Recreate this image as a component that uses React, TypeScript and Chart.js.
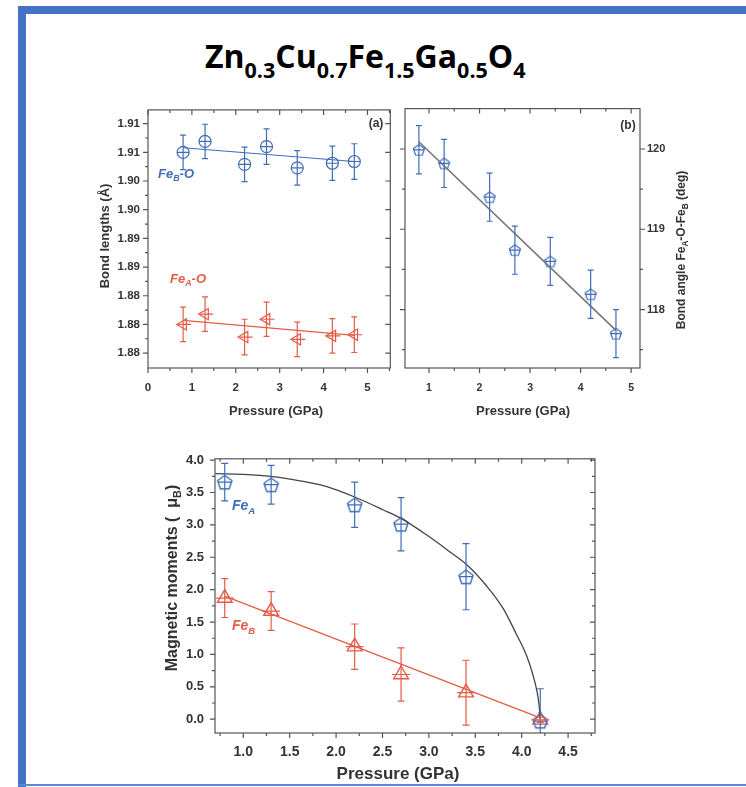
import React, { useEffect, useRef } from "react";
import { Chart, registerables } from "chart.js";
Chart.register(...registerables);

const BLUE = "#3f6db8";
const RED = "#e55b47";
const AXIS = "#555555";
const LABEL = "#333333";
const FONT = "'Liberation Sans', Arial, sans-serif";

// ---------- Panel (a): bond lengths ----------
const PRESSURE_AB = [0.8, 1.3, 2.2, 2.7, 3.4, 4.2, 4.7];
const FEB_O_LENGTH = [1.91, 1.9119, 1.9079, 1.911, 1.9073, 1.9081, 1.9084];
const FEB_O_ERROR = [0.003, 0.003, 0.003, 0.0031, 0.003, 0.003, 0.0031];
const FEA_O_LENGTH = [1.88, 1.8818, 1.8778, 1.8809, 1.8774, 1.878, 1.8782];
const FEA_O_ERROR = [0.003, 0.003, 0.0031, 0.003, 0.003, 0.003, 0.0031];
const FIT_AB_X = [0.8, 4.7];
const FEB_O_FIT = [1.9108, 1.9084];
const FEA_O_FIT = [1.8807, 1.8781];
const LENGTH_TICKS = [1.875, 1.88, 1.885, 1.89, 1.895, 1.9, 1.905, 1.91, 1.915];
const LENGTH_TICK_LABELS = ["1.88", "1.88", "1.88", "1.89", "1.89", "1.90", "1.90", "1.91", "1.91"];
const PRESSURE_TICKS_A = [0, 1, 2, 3, 4, 5];

// ---------- Panel (b): bond angle ----------
const BOND_ANGLE = [119.99, 119.82, 119.4, 118.74, 118.6, 118.19, 117.7];
const BOND_ANGLE_ERROR = [0.3, 0.3, 0.3, 0.3, 0.3, 0.3, 0.3];
const BOND_ANGLE_FIT = [120.09, 117.74];
const ANGLE_TICKS = [118, 119, 120];
const PRESSURE_TICKS_B = [1, 2, 3, 4, 5];

// ---------- Panel (c): magnetic moments ----------
const PRESSURE_C = [0.8, 1.3, 2.2, 2.7, 3.4, 4.2];
const MOMENT_FEA = [3.66, 3.62, 3.31, 3.01, 2.2, -0.03];
const MOMENT_FEA_ERROR = [0.29, 0.3, 0.35, 0.41, 0.51, 0.5];
const MOMENT_FEB = [1.87, 1.67, 1.12, 0.69, 0.41, -0.01];
const MOMENT_FEB_ERROR = [0.3, 0.3, 0.35, 0.41, 0.5, 0.04];
const FEA_CURVE_X = [0.7, 1.0, 1.3, 1.61, 1.9, 2.2, 2.51, 2.7, 2.97, 3.22, 3.42, 3.62, 3.8, 3.94, 4.05, 4.12, 4.17, 4.19, 4.2];
const FEA_CURVE_Y = [3.79, 3.78, 3.75, 3.68, 3.59, 3.43, 3.23, 3.1, 2.85, 2.59, 2.37, 2.06, 1.71, 1.32, 0.99, 0.69, 0.39, 0.18, 0.0];
const FEB_LINE_X = [0.8, 4.2];
const FEB_LINE_Y = [1.9, 0.02];
const MOMENT_TICKS = [0, 0.5, 1, 1.5, 2, 2.5, 3, 3.5, 4];
const PRESSURE_TICKS_C = [1, 1.5, 2, 2.5, 3, 3.5, 4, 4.5];

type Part = { t: string; sub?: boolean };
type TextSpec = { parts: Part[]; x: number; y: number; rot?: number; size: number; color: string; italic?: boolean; align?: "left" | "center" };
type TickSpec = { axis: "x" | "y"; side: "top" | "bottom" | "left" | "right"; values: number[]; len: number; out: boolean };

const mids = (a: number[]) => {
  const r: number[] = [];
  for (let i = 0; i < a.length - 1; i++) r.push((a[i] + a[i + 1]) / 2);
  return r;
};

function pts(xs: number[], ys: number[]) {
  return xs.map((x, i) => ({ x, y: ys[i] }));
}

function pentagon(r: number, color: string, lw: number) {
  const c = document.createElement("canvas");
  const s = Math.ceil(2 * r + lw * 2 + 2);
  c.width = s;
  c.height = s;
  const g = c.getContext("2d")!;
  g.strokeStyle = color;
  g.lineWidth = lw;
  g.beginPath();
  for (let k = 0; k < 5; k++) {
    const a = -Math.PI / 2 + (k * 2 * Math.PI) / 5;
    const px = s / 2 + r * Math.cos(a);
    const py = s / 2 + r * Math.sin(a) + r * 0.1;
    if (k) g.lineTo(px, py);
    else g.moveTo(px, py);
  }
  g.closePath();
  g.stroke();
  return c;
}

function drawRich(ctx: CanvasRenderingContext2D, s: TextSpec, ox: number, oy: number) {
  const style = `${s.italic ? "italic " : ""}bold `;
  const subSize = s.size * 0.68;
  const widths = s.parts.map((p) => {
    ctx.font = `${style}${p.sub ? subSize : s.size}px ${FONT}`;
    return ctx.measureText(p.t).width;
  });
  const total = widths.reduce((a, b) => a + b, 0);
  ctx.save();
  ctx.translate(s.x - ox, s.y - oy);
  ctx.rotate(((s.rot || 0) * Math.PI) / 180);
  ctx.fillStyle = s.color;
  ctx.textBaseline = "alphabetic";
  ctx.textAlign = "left";
  let cx = s.align === "left" ? 0 : -total / 2;
  const base = s.size * 0.36;
  s.parts.forEach((p, k) => {
    ctx.font = `${style}${p.sub ? subSize : s.size}px ${FONT}`;
    ctx.fillText(p.t, cx, p.sub ? base + s.size * 0.25 : base);
    cx += widths[k];
  });
  ctx.restore();
}

function makeDecor(ox: number, oy: number, ticks: TickSpec[], texts: TextSpec[]) {
  return {
    id: "decor",
    afterDatasetsDraw(chart: any) {
      const ctx: CanvasRenderingContext2D = chart.ctx;
      const a = chart.chartArea;
      ctx.save();
      ctx.beginPath();
      ctx.rect(a.left, a.top, a.right - a.left, a.bottom - a.top);
      ctx.clip();
      chart.data.datasets.forEach((ds: any, i: number) => {
        if (!ds.errY) return;
        const meta = chart.getDatasetMeta(i);
        const ys = chart.scales[meta.yAxisID];
        ctx.strokeStyle = ds.borderColor;
        ctx.lineWidth = 1.2;
        meta.data.forEach((pt: any, j: number) => {
          const v = ds.data[j].y;
          const e = ds.errY[j];
          const x = pt.x;
          const y = pt.y;
          const y1 = ys.getPixelForValue(v + e);
          const y2 = ys.getPixelForValue(v - e);
          ctx.beginPath();
          ctx.moveTo(x, y1);
          ctx.lineTo(x, y2);
          ctx.moveTo(x - ds.capW, y1);
          ctx.lineTo(x + ds.capW, y1);
          ctx.moveTo(x - ds.capW, y2);
          ctx.lineTo(x + ds.capW, y2);
          ctx.moveTo(x - ds.crossL, y);
          ctx.lineTo(x + ds.crossR, y);
          ctx.stroke();
        });
      });
      ctx.restore();
    },
    afterDraw(chart: any) {
      const ctx: CanvasRenderingContext2D = chart.ctx;
      const a = chart.chartArea;
      ctx.save();
      ctx.strokeStyle = AXIS;
      ctx.lineWidth = 1.2;
      ctx.strokeRect(a.left, a.top, a.right - a.left, a.bottom - a.top);
      ctx.beginPath();
      ticks.forEach((t) => {
        const sc = chart.scales[t.axis];
        t.values.forEach((v) => {
          const p = sc.getPixelForValue(v);
          if (t.side === "bottom" || t.side === "top") {
            if (p < a.left - 0.5 || p > a.right + 0.5) return;
            const y0 = t.side === "bottom" ? a.bottom : a.top;
            const d = (t.side === "bottom" ? 1 : -1) * (t.out ? 1 : -1) * t.len;
            ctx.moveTo(p, y0);
            ctx.lineTo(p, y0 + d);
          } else {
            if (p < a.top - 0.5 || p > a.bottom + 0.5) return;
            const x0 = t.side === "left" ? a.left : a.right;
            const d = (t.side === "left" ? -1 : 1) * (t.out ? 1 : -1) * t.len;
            ctx.moveTo(x0, p);
            ctx.lineTo(x0 + d, p);
          }
        });
      });
      ctx.stroke();
      ctx.restore();
      texts.forEach((s) => drawRich(ctx, s, ox, oy));
    },
  };
}

function axis(min: number, max: number, vals: number[], size: number, pad: number, fit: (s: any) => void, fmt: (v: number, i: number) => string, position?: string) {
  return {
    type: "linear",
    position,
    min,
    max,
    afterBuildTicks: (s: any) => {
      s.ticks = vals.map((v) => ({ value: v }));
    },
    afterFit: fit,
    ticks: {
      font: { family: FONT, size, weight: "bold" },
      color: LABEL,
      padding: pad,
      maxRotation: 0,
      autoSkip: false,
      callback: (v: any, i: number) => fmt(Number(v), i),
    },
    grid: { display: false, drawTicks: false },
    border: { display: false },
  };
}

const baseOptions = (padding: any) => ({
  animation: false,
  responsive: false,
  maintainAspectRatio: false,
  layout: { padding },
  plugins: { legend: { display: false }, tooltip: { enabled: false } },
});

function lineDs(xs: number[], ys: number[], color: string, width: number, monotone = false) {
  return {
    data: pts(xs, ys),
    showLine: true,
    borderColor: color,
    borderWidth: width,
    pointRadius: 0,
    fill: false,
    cubicInterpolationMode: monotone ? "monotone" : "default",
  };
}

function configA(): any {
  const ox = 88, oy = 95;
  const ticks: TickSpec[] = [
    { axis: "x", side: "bottom", values: PRESSURE_TICKS_A, len: 5, out: true },
    { axis: "x", side: "bottom", values: [...mids(PRESSURE_TICKS_A), 5.5], len: 3, out: true },
    { axis: "x", side: "top", values: PRESSURE_TICKS_A, len: 5, out: false },
    { axis: "x", side: "top", values: [...mids(PRESSURE_TICKS_A), 5.5], len: 3, out: false },
    { axis: "y", side: "left", values: LENGTH_TICKS, len: 5, out: true },
    { axis: "y", side: "left", values: mids(LENGTH_TICKS), len: 3, out: true },
    { axis: "y", side: "right", values: LENGTH_TICKS, len: 5, out: false },
  ];
  const texts: TextSpec[] = [
    { parts: [{ t: "Bond lengths (Å)" }], x: 104, y: 236, rot: -90, size: 13, color: LABEL },
    { parts: [{ t: "Pressure (GPa)" }], x: 276, y: 410, size: 13, color: LABEL },
    { parts: [{ t: "(a)" }], x: 376, y: 123, size: 12, color: LABEL },
    { parts: [{ t: "Fe" }, { t: "B", sub: true }, { t: "-O" }], x: 158, y: 173, size: 13, color: BLUE, italic: true, align: "left" },
    { parts: [{ t: "Fe" }, { t: "A", sub: true }, { t: "-O" }], x: 170, y: 278, size: 13, color: RED, italic: true, align: "left" },
  ];
  return {
    type: "scatter",
    data: {
      datasets: [
        lineDs(FIT_AB_X, FEB_O_FIT, BLUE, 1.2),
        lineDs(FIT_AB_X, FEA_O_FIT, RED, 1.2),
        {
          data: pts(PRESSURE_AB, FEB_O_LENGTH),
          pointStyle: "circle",
          pointRadius: 6,
          borderColor: BLUE,
          backgroundColor: "rgba(0,0,0,0)",
          borderWidth: 1.2,
          errY: FEB_O_ERROR,
          capW: 3,
          crossL: 6,
          crossR: 6,
        },
        {
          data: pts(PRESSURE_AB, FEA_O_LENGTH),
          pointStyle: "triangle",
          rotation: -90,
          pointRadius: 6.5,
          borderColor: RED,
          backgroundColor: "rgba(0,0,0,0)",
          borderWidth: 1.2,
          errY: FEA_O_ERROR,
          capW: 3,
          crossL: 5,
          crossR: 8,
        },
      ],
    },
    options: {
      ...baseOptions({ top: 10, right: 5, left: 0, bottom: 0 }),
      scales: {
        x: axis(0, 5.52, PRESSURE_TICKS_A, 11.5, 13, (s: any) => { s.height = 57; }, (v) => String(v)),
        y: axis(1.8724, 1.9174, LENGTH_TICKS, 11.5, 8, (s: any) => { s.width = 60; }, (_v, i) => LENGTH_TICK_LABELS[i]),
      },
    },
    plugins: [makeDecor(ox, oy, ticks, texts)],
  };
}

function configB(): any {
  const ox = 398, oy = 95;
  const minor = [117.5, 118.5, 119.5];
  const ticks: TickSpec[] = [
    { axis: "x", side: "bottom", values: PRESSURE_TICKS_B, len: 5, out: true },
    { axis: "x", side: "bottom", values: [...mids(PRESSURE_TICKS_B)], len: 3, out: true },
    { axis: "x", side: "top", values: PRESSURE_TICKS_B, len: 5, out: false },
    { axis: "x", side: "top", values: [...mids(PRESSURE_TICKS_B)], len: 3, out: false },
    { axis: "y", side: "right", values: ANGLE_TICKS, len: 5, out: true },
    { axis: "y", side: "right", values: minor, len: 3, out: true },
    { axis: "y", side: "left", values: ANGLE_TICKS, len: 5, out: true },
    { axis: "y", side: "left", values: minor, len: 3, out: true },
  ];
  const texts: TextSpec[] = [
    { parts: [{ t: "Pressure (GPa)" }], x: 523, y: 410, size: 13, color: LABEL },
    { parts: [{ t: "(b)" }], x: 628, y: 125, size: 12, color: LABEL },
    {
      parts: [{ t: "Bond angle Fe" }, { t: "A", sub: true }, { t: "-O-Fe" }, { t: "B", sub: true }, { t: " (deg)" }],
      x: 681, y: 250, rot: -90, size: 12, color: LABEL,
    },
  ];
  return {
    type: "scatter",
    data: {
      datasets: [
        lineDs(FIT_AB_X, BOND_ANGLE_FIT, "#777777", 1.6),
        {
          data: pts(PRESSURE_AB, BOND_ANGLE),
          pointStyle: pentagon(5.8, BLUE, 1.2),
          pointRadius: 6,
          borderColor: BLUE,
          backgroundColor: "rgba(0,0,0,0)",
          errY: BOND_ANGLE_ERROR,
          capW: 3,
          crossL: 5.5,
          crossR: 5.5,
        },
      ],
    },
    options: {
      ...baseOptions({ top: 10, right: 0, left: 4, bottom: 0 }),
      scales: {
        x: axis(0.525, 5.176, PRESSURE_TICKS_B, 10.5, 14, (s: any) => { s.height = 57; }, (v) => String(v)),
        y: axis(117.272, 120.503, ANGLE_TICKS, 11, 7, (s: any) => { s.width = 60; }, (v) => String(v), "right"),
      },
    },
    plugins: [makeDecor(ox, oy, ticks, texts)],
  };
}

function configC(): any {
  const ox = 150, oy = 440;
  const xMinor = [0.75, ...mids(PRESSURE_TICKS_C), 4.75];
  const yMinor = [-0.25, ...mids(MOMENT_TICKS)];
  const ticks: TickSpec[] = [
    { axis: "x", side: "bottom", values: PRESSURE_TICKS_C, len: 5, out: true },
    { axis: "x", side: "bottom", values: xMinor, len: 3, out: true },
    { axis: "x", side: "top", values: PRESSURE_TICKS_C, len: 5, out: false },
    { axis: "x", side: "top", values: xMinor, len: 3, out: false },
    { axis: "y", side: "left", values: MOMENT_TICKS, len: 5, out: true },
    { axis: "y", side: "left", values: yMinor, len: 3, out: true },
    { axis: "y", side: "right", values: MOMENT_TICKS, len: 5, out: false },
    { axis: "y", side: "right", values: yMinor, len: 3, out: false },
  ];
  const texts: TextSpec[] = [
    { parts: [{ t: "Magnetic moments (  μ" }, { t: "B", sub: true }, { t: ")" }], x: 171, y: 578, rot: -90, size: 16, color: LABEL },
    { parts: [{ t: "Pressure (GPa)" }], x: 398, y: 773, size: 17, color: LABEL },
    { parts: [{ t: "Fe" }, { t: "A", sub: true }], x: 232, y: 505, size: 14, color: BLUE, italic: true, align: "left" },
    { parts: [{ t: "Fe" }, { t: "B", sub: true }], x: 232, y: 625, size: 14, color: RED, italic: true, align: "left" },
  ];
  return {
    type: "scatter",
    data: {
      datasets: [
        lineDs(FEA_CURVE_X, FEA_CURVE_Y, "#444444", 1.3, true),
        lineDs(FEB_LINE_X, FEB_LINE_Y, RED, 1.3),
        {
          data: pts(PRESSURE_C, MOMENT_FEA),
          pointStyle: pentagon(7.5, BLUE, 1.4),
          pointRadius: 7,
          borderColor: BLUE,
          backgroundColor: "rgba(0,0,0,0)",
          errY: MOMENT_FEA_ERROR,
          capW: 3.5,
          crossL: 7,
          crossR: 7,
        },
        {
          data: pts(PRESSURE_C, MOMENT_FEB),
          pointStyle: "triangle",
          pointRadius: 8.5,
          borderColor: RED,
          backgroundColor: "rgba(0,0,0,0)",
          borderWidth: 1.4,
          errY: MOMENT_FEB_ERROR,
          capW: 3.5,
          crossL: 9,
          crossR: 9,
        },
      ],
    },
    options: {
      ...baseOptions({ top: 17, right: 15, left: 0, bottom: 0 }),
      scales: {
        x: axis(0.695, 4.79, PRESSURE_TICKS_C, 14, 11, (s: any) => { s.height = 54; }, (v) => v.toFixed(1)),
        y: axis(-0.213, 4.02, MOMENT_TICKS, 13, 11, (s: any) => { s.width = 65; }, (v) => v.toFixed(1)),
      },
    },
    plugins: [makeDecor(ox, oy, ticks, texts)],
  };
}

export default function App() {
  const ra = useRef<HTMLCanvasElement>(null);
  const rb = useRef<HTMLCanvasElement>(null);
  const rc = useRef<HTMLCanvasElement>(null);
  useEffect(() => {
    const charts = [
      new Chart(ra.current!, configA()),
      new Chart(rb.current!, configB()),
      new Chart(rc.current!, configC()),
    ];
    return () => charts.forEach((c) => c.destroy());
  }, []);
  const sub = { fontSize: 21.5 } as any;
  const abs = (l: number, t: number, w: number, h: number): React.CSSProperties => ({ position: "absolute", left: l, top: t, width: w, height: h });
  return (
    <div style={{ position: "fixed", left: 0, top: 0, width: 746, height: 787, background: "#ffffff", overflow: "hidden" }}>
      <div style={{ ...abs(19, 6, 727, 8), background: "#4472c4" }} />
      <div style={{ ...abs(18, 6, 8, 781), background: "#4472c4" }} />
      <div style={{ ...abs(18, 784, 728, 2), background: "#5b88d4" }} />
      <svg width={746} height={100} style={{ position: "absolute", left: 0, top: 0 }}>
        <text x={205} y={68} fontFamily="'Open Sans', sans-serif" fontWeight={700} fontSize={32} fill="#000">
          Zn<tspan {...sub} dy={10}>0.3</tspan>
          <tspan dy={-10}>Cu</tspan>
          <tspan {...sub} dy={10}>0.7</tspan>
          <tspan dy={-10}>Fe</tspan>
          <tspan {...sub} dy={10}>1.5</tspan>
          <tspan dy={-10}>Ga</tspan>
          <tspan {...sub} dy={10}>0.5</tspan>
          <tspan dy={-10}>O</tspan>
          <tspan {...sub} dy={10}>4</tspan>
        </text>
      </svg>
      <canvas ref={ra} width={310} height={330} style={abs(88, 95, 310, 330)} />
      <canvas ref={rb} width={302} height={330} style={abs(398, 95, 302, 330)} />
      <canvas ref={rc} width={460} height={347} style={abs(150, 440, 460, 347)} />
    </div>
  );
}
